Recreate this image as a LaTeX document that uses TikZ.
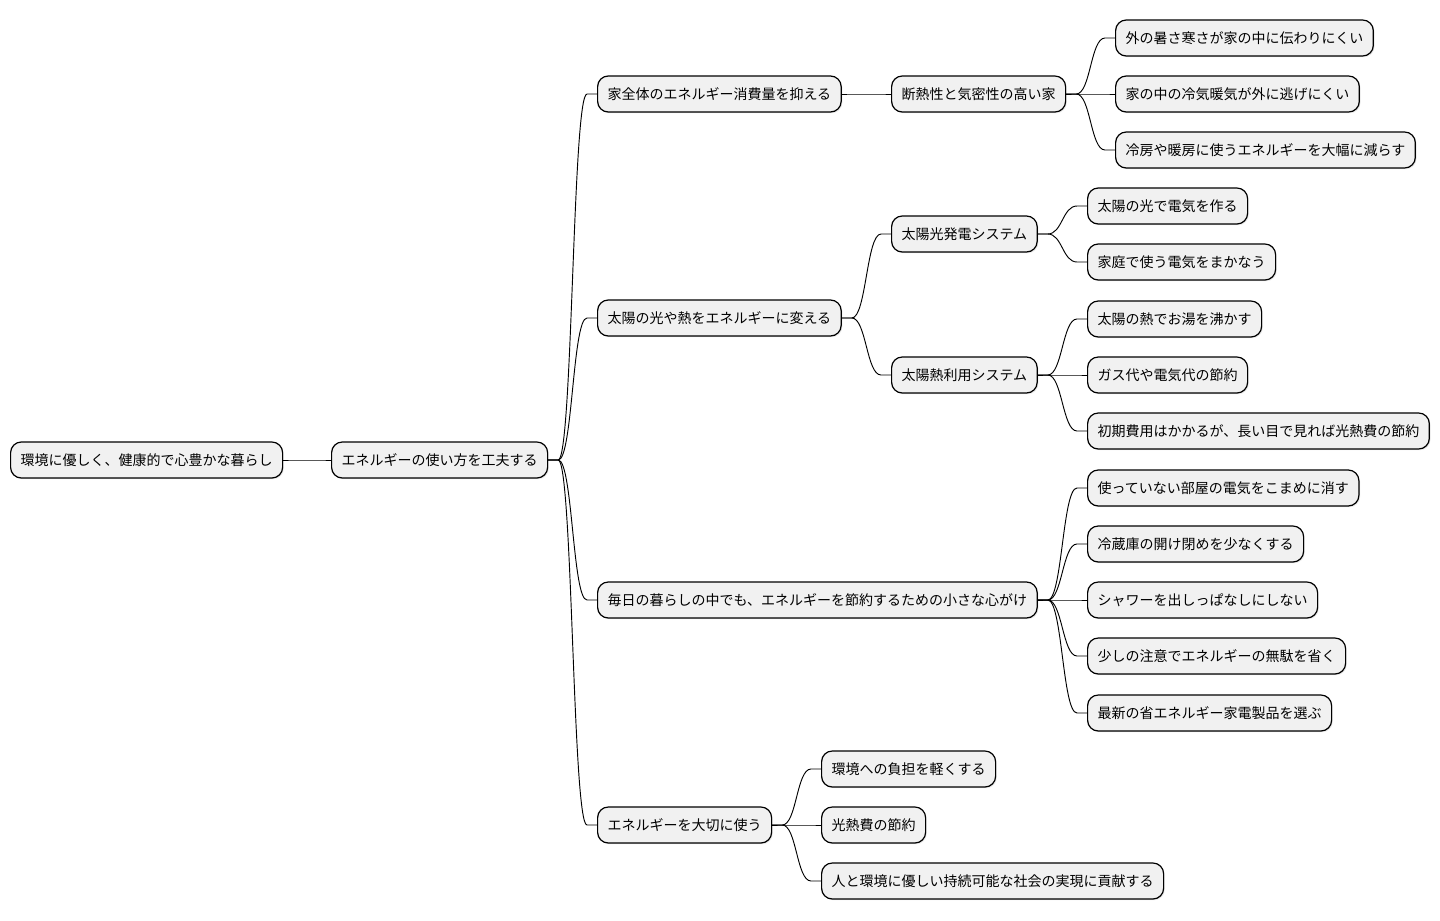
\documentclass[tikz,border=0pt]{standalone}
\usepackage{fontspec}
\setmainfont{Noto Sans CJK JP}
\usepackage{tikz}
\usetikzlibrary{calc, shadows}
\definecolor{boxgray}{HTML}{F1F1F1}
\tikzstyle{topic} = [draw, line width=0.9pt, rounded corners=8pt, fill=boxgray, minimum height=27pt, inner xsep=7.5pt, anchor=west, font=\fontsize{10.5pt}{12pt}\selectfont, drop shadow={shadow xshift=0.9pt, shadow yshift=-0.9pt, opacity=0.2}]
\tikzstyle{link} = [line width=0.7pt]
\tikzstyle{branch} = [to path={-- ($(\tikztostart)+(10,0)$) .. controls ($(\tikztostart)+(24.5,0)$) and ($(\tikztotarget)+(-24.5,0)$) .. ($(\tikztotarget)+(-10,0)$) -- (\tikztotarget)}]

\begin{document}
\begin{tikzpicture}[x=0.75pt, y=-0.75pt]
        \useasboundingbox (0,0) rectangle (1440,921);
        % root and first level
        \node (root) [topic] at (10,460) {環境に優しく、健康的で心豊かな暮らし};
        \node (use) [topic] at (331,460) {エネルギーの使い方を工夫する};
        % second level
        \node (whole) [topic] at (597,94) {家全体のエネルギー消費量を抑える};
        \node (solar) [topic] at (597,318) {太陽の光や熱をエネルギーに変える};
        \node (daily) [topic] at (597,600) {毎日の暮らしの中でも、エネルギーを節約するための小さな心がけ};
        \node (care) [topic] at (597,825) {エネルギーを大切に使う};
        % third level
        \node (insul) [topic] at (891,94) {断熱性と気密性の高い家};
        \node (pv) [topic] at (891,234) {太陽光発電システム};
        \node (thermal) [topic] at (891,375) {太陽熱利用システム};
        \node (ins1) [topic] at (1115,38) {外の暑さ寒さが家の中に伝わりにくい};
        \node (ins2) [topic] at (1115,94) {家の中の冷気暖気が外に逃げにくい};
        \node (ins3) [topic] at (1115,150) {冷房や暖房に使うエネルギーを大幅に減らす};
        \node (pv1) [topic] at (1087,206) {太陽の光で電気を作る};
        \node (pv2) [topic] at (1087,262) {家庭で使う電気をまかなう};
        \node (th1) [topic] at (1087,319) {太陽の熱でお湯を沸かす};
        \node (th2) [topic] at (1087,375) {ガス代や電気代の節約};
        \node (th3) [topic] at (1087,431) {初期費用はかかるが、長い目で見れば光熱費の節約};
        \node (day1) [topic] at (1087,488) {使っていない部屋の電気をこまめに消す};
        \node (day2) [topic] at (1087,544) {冷蔵庫の開け閉めを少なくする};
        \node (day3) [topic] at (1087,600) {シャワーを出しっぱなしにしない};
        \node (day4) [topic] at (1087,656) {少しの注意でエネルギーの無駄を省く};
        \node (day5) [topic] at (1087,713) {最新の省エネルギー家電製品を選ぶ};
        \node (care1) [topic] at (821,769) {環境への負担を軽くする};
        \node (care2) [topic] at (821,825) {光熱費の節約};
        \node (care3) [topic] at (821,881) {人と環境に優しい持続可能な社会の実現に貢献する};
        % connectors
        \draw [link] (root.east) to[branch] (use.west);
        \foreach \c in {whole, solar, daily, care}
            \draw [link] (use.east) to[branch] (\c.west);
        \draw [link] (whole.east) to[branch] (insul.west);
        \foreach \c in {ins1, ins2, ins3}
            \draw [link] (insul.east) to[branch] (\c.west);
        \foreach \c in {pv, thermal}
            \draw [link] (solar.east) to[branch] (\c.west);
        \foreach \c in {pv1, pv2}
            \draw [link] (pv.east) to[branch] (\c.west);
        \foreach \c in {th1, th2, th3}
            \draw [link] (thermal.east) to[branch] (\c.west);
        \foreach \c in {day1, day2, day3, day4, day5}
            \draw [link] (daily.east) to[branch] (\c.west);
        \foreach \c in {care1, care2, care3}
            \draw [link] (care.east) to[branch] (\c.west);
    \end{tikzpicture}
\end{document}
